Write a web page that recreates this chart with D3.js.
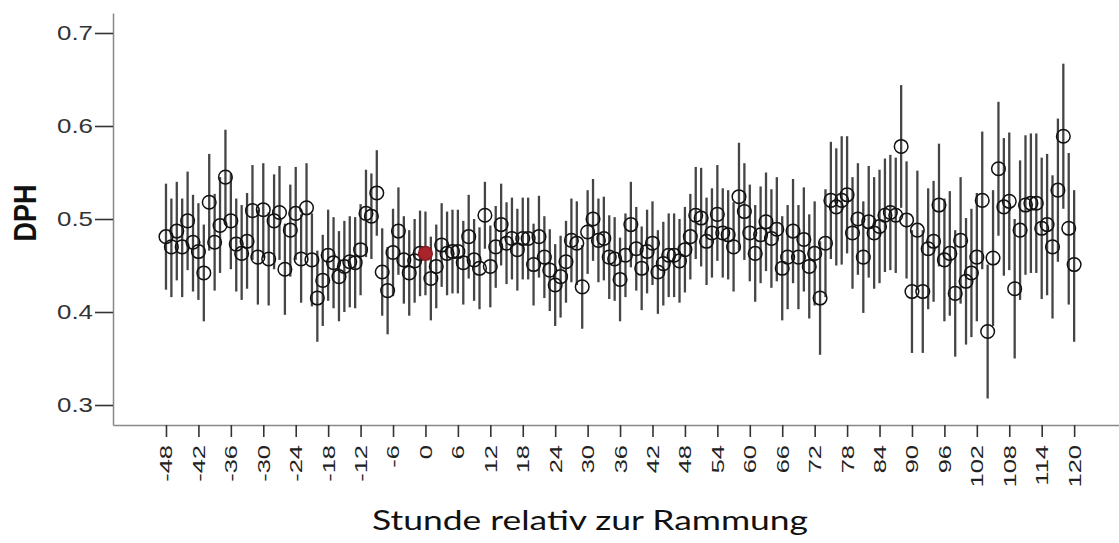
<!DOCTYPE html>
<html>
<head>
<meta charset="utf-8">
<script src="https://cdn.jsdelivr.net/npm/d3@7"></script>
<style>
  body { margin: 0; background: #fff; }
  svg { display: block; }
</style>
</head>
<body>
<div id="vis"></div>
<script>
const width = 1119;
const height = 543;

// hours relative to the ramming event, one point per hour
const hours = d3.range(-48, 121);

// mean DPH per hour
const dphMean = [
  0.481, 0.470, 0.487, 0.470, 0.498, 0.475, 0.465, 0.442, 0.518, 0.475,
  0.493, 0.545, 0.498, 0.473, 0.463, 0.476, 0.509, 0.459, 0.510, 0.457,
  0.498, 0.507, 0.446, 0.488, 0.506, 0.457, 0.512, 0.456, 0.415, 0.434,
  0.461, 0.453, 0.438, 0.449, 0.454, 0.453, 0.467, 0.506, 0.503, 0.528,
  0.443, 0.423, 0.464, 0.487, 0.456, 0.442, 0.455, 0.463, 0.463, 0.436,
  0.449, 0.472, 0.463, 0.465, 0.465, 0.453, 0.481, 0.456, 0.447, 0.504,
  0.449, 0.470, 0.494, 0.474, 0.479, 0.467, 0.479, 0.479, 0.451, 0.481,
  0.459, 0.445, 0.429, 0.438, 0.454, 0.477, 0.474, 0.427, 0.486, 0.500,
  0.477, 0.479, 0.459, 0.457, 0.435, 0.461, 0.494, 0.468, 0.447, 0.465,
  0.474, 0.443, 0.452, 0.461, 0.461, 0.455, 0.467, 0.481, 0.504, 0.501,
  0.476, 0.485, 0.505, 0.485, 0.483, 0.470, 0.524, 0.508, 0.485, 0.463,
  0.483, 0.497, 0.479, 0.489, 0.447, 0.459, 0.487, 0.459, 0.478, 0.449,
  0.463, 0.415, 0.474, 0.520, 0.513, 0.520, 0.526, 0.485, 0.500, 0.459,
  0.497, 0.485, 0.492, 0.504, 0.507, 0.504, 0.578, 0.499, 0.422, 0.488,
  0.422, 0.468, 0.476, 0.515, 0.456, 0.463, 0.420, 0.477, 0.433, 0.442,
  0.459, 0.520, 0.379, 0.458, 0.554, 0.513, 0.519, 0.425, 0.488, 0.515,
  0.517, 0.517, 0.490, 0.494, 0.470, 0.531, 0.589, 0.490, 0.451
];

// upper end of the error bar
const ciHigh = [
  0.538, 0.522, 0.540, 0.522, 0.551, 0.526, 0.517, 0.494, 0.570, 0.527,
  0.545, 0.596, 0.549, 0.522, 0.515, 0.528, 0.558, 0.510, 0.560, 0.507,
  0.548, 0.557, 0.495, 0.537, 0.556, 0.505, 0.560, 0.506, 0.466, 0.483,
  0.510, 0.502, 0.487, 0.498, 0.503, 0.502, 0.516, 0.553, 0.549, 0.574,
  0.490, 0.470, 0.511, 0.534, 0.503, 0.488, 0.500, 0.509, 0.508, 0.481,
  0.494, 0.517, 0.508, 0.510, 0.510, 0.498, 0.526, 0.500, 0.491, 0.540,
  0.493, 0.514, 0.538, 0.518, 0.523, 0.511, 0.523, 0.523, 0.495, 0.525,
  0.503, 0.489, 0.473, 0.482, 0.498, 0.522, 0.519, 0.472, 0.531, 0.543,
  0.522, 0.524, 0.504, 0.502, 0.480, 0.506, 0.540, 0.513, 0.492, 0.510,
  0.519, 0.488, 0.497, 0.506, 0.506, 0.500, 0.513, 0.527, 0.556, 0.555,
  0.523, 0.533, 0.558, 0.533, 0.531, 0.518, 0.582, 0.560, 0.537, 0.515,
  0.535, 0.550, 0.532, 0.545, 0.503, 0.515, 0.543, 0.515, 0.534, 0.505,
  0.519, 0.476, 0.532, 0.583, 0.576, 0.589, 0.589, 0.545, 0.560, 0.519,
  0.557, 0.545, 0.553, 0.565, 0.569, 0.566, 0.644, 0.562, 0.488, 0.552,
  0.488, 0.533, 0.541, 0.581, 0.522, 0.530, 0.488, 0.545, 0.501, 0.511,
  0.528, 0.594, 0.451, 0.531, 0.626, 0.587, 0.593, 0.500, 0.563, 0.590,
  0.592, 0.592, 0.566, 0.570, 0.547, 0.608, 0.667, 0.571, 0.531
];

// lower end of the error bar
const ciLow = [
  0.424, 0.416, 0.434, 0.416, 0.445, 0.422, 0.413, 0.390, 0.466, 0.423,
  0.442, 0.495, 0.446, 0.422, 0.413, 0.425, 0.456, 0.408, 0.458, 0.407,
  0.446, 0.456, 0.397, 0.438, 0.456, 0.410, 0.462, 0.406, 0.368, 0.385,
  0.412, 0.404, 0.390, 0.400, 0.405, 0.404, 0.418, 0.459, 0.457, 0.482,
  0.396, 0.376, 0.417, 0.440, 0.409, 0.396, 0.410, 0.417, 0.418, 0.391,
  0.404, 0.427, 0.418, 0.420, 0.420, 0.408, 0.436, 0.412, 0.403, 0.468,
  0.405, 0.426, 0.450, 0.430, 0.435, 0.423, 0.435, 0.435, 0.407, 0.437,
  0.415, 0.401, 0.385, 0.394, 0.410, 0.432, 0.429, 0.382, 0.441, 0.455,
  0.432, 0.434, 0.414, 0.412, 0.390, 0.416, 0.448, 0.423, 0.402, 0.420,
  0.429, 0.398, 0.407, 0.416, 0.416, 0.410, 0.421, 0.435, 0.457, 0.449,
  0.429, 0.437, 0.455, 0.437, 0.435, 0.422, 0.466, 0.456, 0.433, 0.411,
  0.431, 0.444, 0.426, 0.433, 0.391, 0.403, 0.431, 0.403, 0.422, 0.393,
  0.407, 0.354, 0.416, 0.457, 0.450, 0.451, 0.463, 0.425, 0.440, 0.399,
  0.437, 0.425, 0.431, 0.443, 0.445, 0.442, 0.512, 0.436, 0.356, 0.424,
  0.356, 0.403, 0.411, 0.449, 0.390, 0.396, 0.352, 0.409, 0.365, 0.373,
  0.390, 0.446, 0.307, 0.385, 0.482, 0.439, 0.445, 0.350, 0.413, 0.440,
  0.442, 0.442, 0.414, 0.418, 0.393, 0.454, 0.511, 0.408, 0.368
];

// the ramming hour is highlighted in red
const highlightHour = 0;

const xTicks = [-48, -42, -36, -30, -24, -18, -12, -6, 0, 6, 12, 18, 24, 30, 36,
                42, 48, 54, 60, 66, 72, 78, 84, 90, 96, 102, 108, 114, 120];
const yTicks = [0.3, 0.4, 0.5, 0.6, 0.7];

const yTitle = 'DPH';
const xTitle = 'Stunde relativ zur Rammung';

const points = hours.map((h, i) => ({
    hour: h, mean: dphMean[i], lo: ciLow[i], hi: ciHigh[i]
}));

let vis = d3.select('#vis')
            .append('svg')
            .attr('width', width)
            .attr('height', height);

// scales
const x = d3.scaleLinear()
            .domain([-57.8, 128.3])
            .range([113, 1119]);

const y = d3.scaleLinear()
            .domain([0.2785, 0.7215])
            .range([425, 13]);

// error bars
vis.append('g')
   .selectAll('line')
   .data(points)
   .enter()
   .append('line')
   .attr('x1', d => x(d.hour))
   .attr('x2', d => x(d.hour))
   .attr('y1', d => y(d.lo))
   .attr('y2', d => y(d.hi))
   .attr('stroke', '#454545')
   .attr('stroke-width', 2.3);

// mean markers
vis.append('g')
   .selectAll('circle')
   .data(points)
   .enter()
   .append('circle')
   .attr('cx', d => x(d.hour))
   .attr('cy', d => y(d.mean))
   .attr('r', 6.8)
   .attr('fill', d => d.hour === highlightHour ? '#a8242a' : 'none')
   .attr('stroke', d => d.hour === highlightHour ? '#8a1c20' : '#111')
   .attr('stroke-width', 1.5);

// y axis
const yAxis = vis.append('g')
                 .attr('transform', 'translate(113,0)')
                 .call(d3.axisLeft(y)
                         .tickValues(yTicks)
                         .tickFormat(d3.format('.1f'))
                         .tickSize(18)
                         .tickSizeOuter(0)
                         .tickPadding(2));

yAxis.select('.domain').attr('stroke', '#888').attr('stroke-width', 1.5);
yAxis.selectAll('.tick line').attr('stroke', '#333').attr('stroke-width', 1.6);
yAxis.selectAll('.tick text')
     .attr('font-family', '"Liberation Sans", Arial, sans-serif')
     .attr('font-size', 21)
     .attr('fill', '#333')
     .attr('textLength', 36)
     .attr('lengthAdjust', 'spacingAndGlyphs');

// x axis
const xAxis = vis.append('g')
                 .attr('transform', 'translate(0,425)')
                 .call(d3.axisBottom(x)
                         .tickValues(xTicks)
                         .tickFormat(d => String(d))
                         .tickSize(12)
                         .tickSizeOuter(0));

xAxis.select('.domain').attr('stroke', '#888').attr('stroke-width', 1.5);
xAxis.selectAll('.tick line').attr('stroke', '#333').attr('stroke-width', 1.6);
xAxis.selectAll('.tick text')
     .attr('font-family', '"Liberation Sans", Arial, sans-serif')
     .attr('font-size', 17)
     .attr('fill', '#222')
     .attr('x', 0)
     .attr('y', 0)
     .attr('dy', '0.35em')
     .attr('text-anchor', 'end')
     .attr('transform', 'translate(0,20) rotate(-90) scale(1.5,1)');

// axis titles
vis.append('text')
   .attr('transform', 'translate(25,213) rotate(-90)')
   .attr('dy', '0.35em')
   .attr('text-anchor', 'middle')
   .attr('font-family', '"Liberation Sans", Arial, sans-serif')
   .attr('font-weight', 'bold')
   .attr('font-size', 32)
   .attr('textLength', 57)
   .attr('lengthAdjust', 'spacingAndGlyphs')
   .attr('fill', '#111')
   .text(yTitle);

vis.append('text')
   .attr('x', 372)
   .attr('y', 530)
   .attr('font-family', 'Lato, "Open Sans", sans-serif')
   .attr('font-size', 27)
   .attr('textLength', 436)
   .attr('lengthAdjust', 'spacingAndGlyphs')
   .attr('fill', '#111')
   .text(xTitle);
</script>
</body>
</html>
